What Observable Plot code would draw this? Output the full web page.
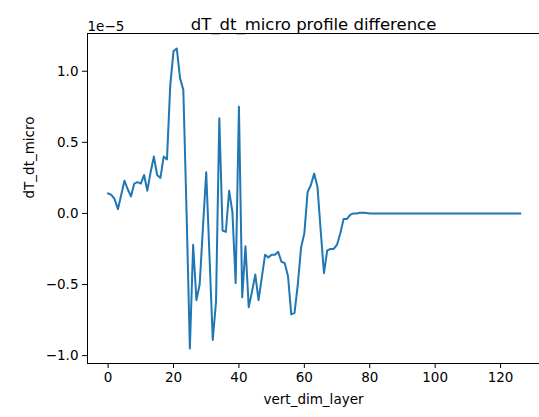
<!DOCTYPE html>
<html>
<head>
<meta charset="utf-8">
<script src="https://cdn.jsdelivr.net/npm/d3@7"></script>
<script src="https://cdn.jsdelivr.net/npm/@observablehq/plot@0.6"></script>
<style>
  html, body { margin: 0; padding: 0; background: #fff; }
  #chart { width: 539px; height: 417px; overflow: hidden; }
</style>
</head>
<body>
<div id="chart"></div>
<script>
// dT_dt_micro difference, in units of 1e-5, for vert_dim_layer 0..126
const dTdtMicro = [
  0.14, 0.13, 0.10, 0.03, 0.13, 0.23, 0.17, 0.12, 0.21, 0.22,
  0.21, 0.27, 0.16, 0.29, 0.40, 0.27, 0.25, 0.40, 0.38, 0.90,
  1.14, 1.16, 0.95, 0.87, 0.00, -0.95, -0.22, -0.61, -0.50, -0.10,
  0.29, -0.30, -0.89, -0.62, 0.67, -0.12, -0.13, 0.16, 0.01, -0.49,
  0.75, -0.59, -0.23, -0.66, -0.55, -0.43, -0.61, -0.45, -0.29, -0.31,
  -0.29, -0.29, -0.27, -0.34, -0.35, -0.44, -0.71, -0.70, -0.50, -0.24,
  -0.14, 0.15, 0.20, 0.28, 0.19, -0.12, -0.42, -0.26, -0.25, -0.25,
  -0.22, -0.14, -0.04, -0.04, -0.01, 0.00, 0.00, 0.005, 0.005, 0.003,
  0, 0, 0, 0, 0, 0, 0, 0, 0, 0,
  0, 0, 0, 0, 0, 0, 0, 0, 0, 0,
  0, 0, 0, 0, 0, 0, 0, 0, 0, 0,
  0, 0, 0, 0, 0, 0, 0, 0, 0, 0,
  0, 0, 0, 0, 0, 0, 0
];
const layers = dTdtMicro.map((_, i) => i);
const xTicks = [0, 20, 40, 60, 80, 100, 120];
const yTicks = [-1.0, -0.5, 0.0, 0.5, 1.0];
const titleText = "dT_dt_micro profile difference";
const xLabel = "vert_dim_layer";
const yLabel = "dT_dt_micro";
const offsetText = "1e\u22125";

const data = layers.map((l, i) => ({layer: l, value: dTdtMicro[i]}));

// matplotlib-style 5% margins
const [x0, x1] = d3.extent(layers);
const [y0, y1] = d3.extent(dTdtMicro);
const xPad = (x1 - x0) * 0.05, yPad = (y1 - y0) * 0.05;
const xDom = [x0 - xPad, x1 + xPad];
const yDom = [y0 - yPad, y1 + yPad];

const W = 539, H = 417, ML = 87, MT = 33, MB = 54;
const font = "DejaVu Sans, sans-serif";

const chart = Plot.plot({
  width: W,
  height: H,
  marginLeft: ML,
  marginRight: 0,
  marginTop: MT,
  marginBottom: MB,
  style: {background: "#fff", color: "#000", fontFamily: font, fontSize: "13.5px", overflow: "hidden"},
  x: {domain: xDom, range: [ML, 540.3], label: null},
  y: {domain: yDom, label: null},
  marks: [
    Plot.axisX({ticks: xTicks, tickSize: 5, tickPadding: 4, tickFormat: d3.format("d"), fontSize: 13.5, label: null}),
    Plot.axisY({ticks: yTicks, tickSize: 5, tickPadding: 4, tickFormat: d3.format(".1f"), fontSize: 13.5, label: null}),
    Plot.line(data, {x: "layer", y: "value", stroke: "#1f77b4", strokeWidth: 2, strokeLinejoin: "round", strokeLinecap: "square"}),
    Plot.ruleX([xDom[0]], {stroke: "#000", strokeWidth: 1}),
    Plot.ruleY([yDom[0]], {stroke: "#000", strokeWidth: 1}),
    Plot.ruleY([yDom[1]], {stroke: "#000", strokeWidth: 1}),
    Plot.text([titleText], {frameAnchor: "top", dy: -15, text: d => d, fontSize: 16.5, fill: "#000"}),
    Plot.text([offsetText], {frameAnchor: "top-left", dy: -12, textAnchor: "start", text: d => d, fontSize: 13.5, fill: "#000"}),
    Plot.text([xLabel], {frameAnchor: "bottom", dy: 40, text: d => d, fontSize: 13.5, fill: "#000"}),
    Plot.text([yLabel], {frameAnchor: "left", dx: -58, rotate: -90, text: d => d, fontSize: 13.5, fill: "#000"})
  ]
});
document.getElementById("chart").appendChild(chart);
</script>
</body>
</html>
